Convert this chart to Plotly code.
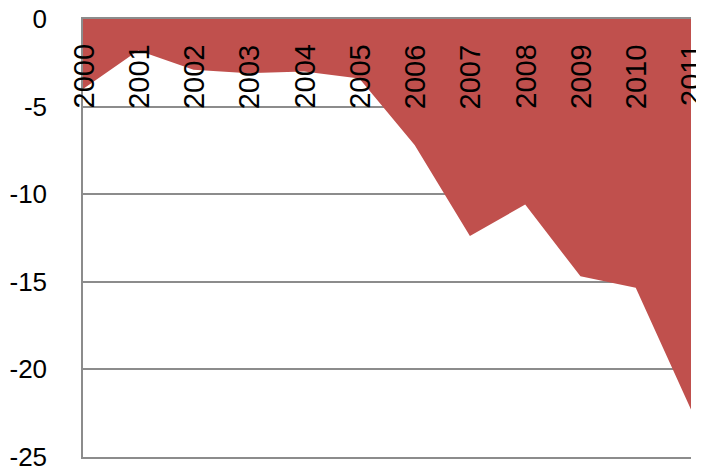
import plotly.graph_objects as go

years = [2000, 2001, 2002, 2003, 2004, 2005, 2006, 2007, 2008, 2009, 2010, 2011]
values = [-4.0, -1.8, -2.9, -3.1, -3.0, -3.4, -7.2, -12.4, -10.6, -14.7, -15.35, -22.3]
y_ticks = [0, -5, -10, -15, -20, -25]
x_labels = [str(y) for y in years]

GRID = "#8c8c8c"
FONT = "Liberation Sans"

fig = go.Figure()
fig.add_trace(go.Scatter(
    x=years, y=values, mode="lines", fill="tozeroy",
    line=dict(width=0, color="#C0504D"), fillcolor="#C0504D",
    hoverinfo="skip", showlegend=False,
))

for yr, lab in zip(years, x_labels):
    fig.add_annotation(
        x=yr, y=0, xref="x", yref="y", text=lab, showarrow=False,
        textangle=-90, xanchor="center", yanchor="top", yshift=-23,
        font=dict(family=FONT, size=29, color="black"),
    )

# page body has an 8px default margin; figure sized so it fits the window
fig.update_layout(
    width=696, height=464,
    margin=dict(l=75, r=13, t=11, b=15, autoexpand=False),
    paper_bgcolor="white", plot_bgcolor="white",
    showlegend=False,
)
fig.update_xaxes(
    range=[years[0], years[-1]], showgrid=False, zeroline=False,
    showticklabels=False, ticks="", showline=True, mirror=True,
    linecolor=GRID, linewidth=1.5, automargin=False,
)
fig.update_yaxes(
    range=[-25.02, 0], tickvals=y_ticks, ticktext=[str(v) for v in y_ticks],
    showgrid=True, gridcolor=GRID, gridwidth=1.5, zeroline=False,
    showline=True, linecolor=GRID, linewidth=1.5, ticks="",
    ticklabelstandoff=29, automargin=False, ticklabeloverflow="allow",
    tickfont=dict(family=FONT, size=26, color="black"),
)

fig.write_html("out.html")
